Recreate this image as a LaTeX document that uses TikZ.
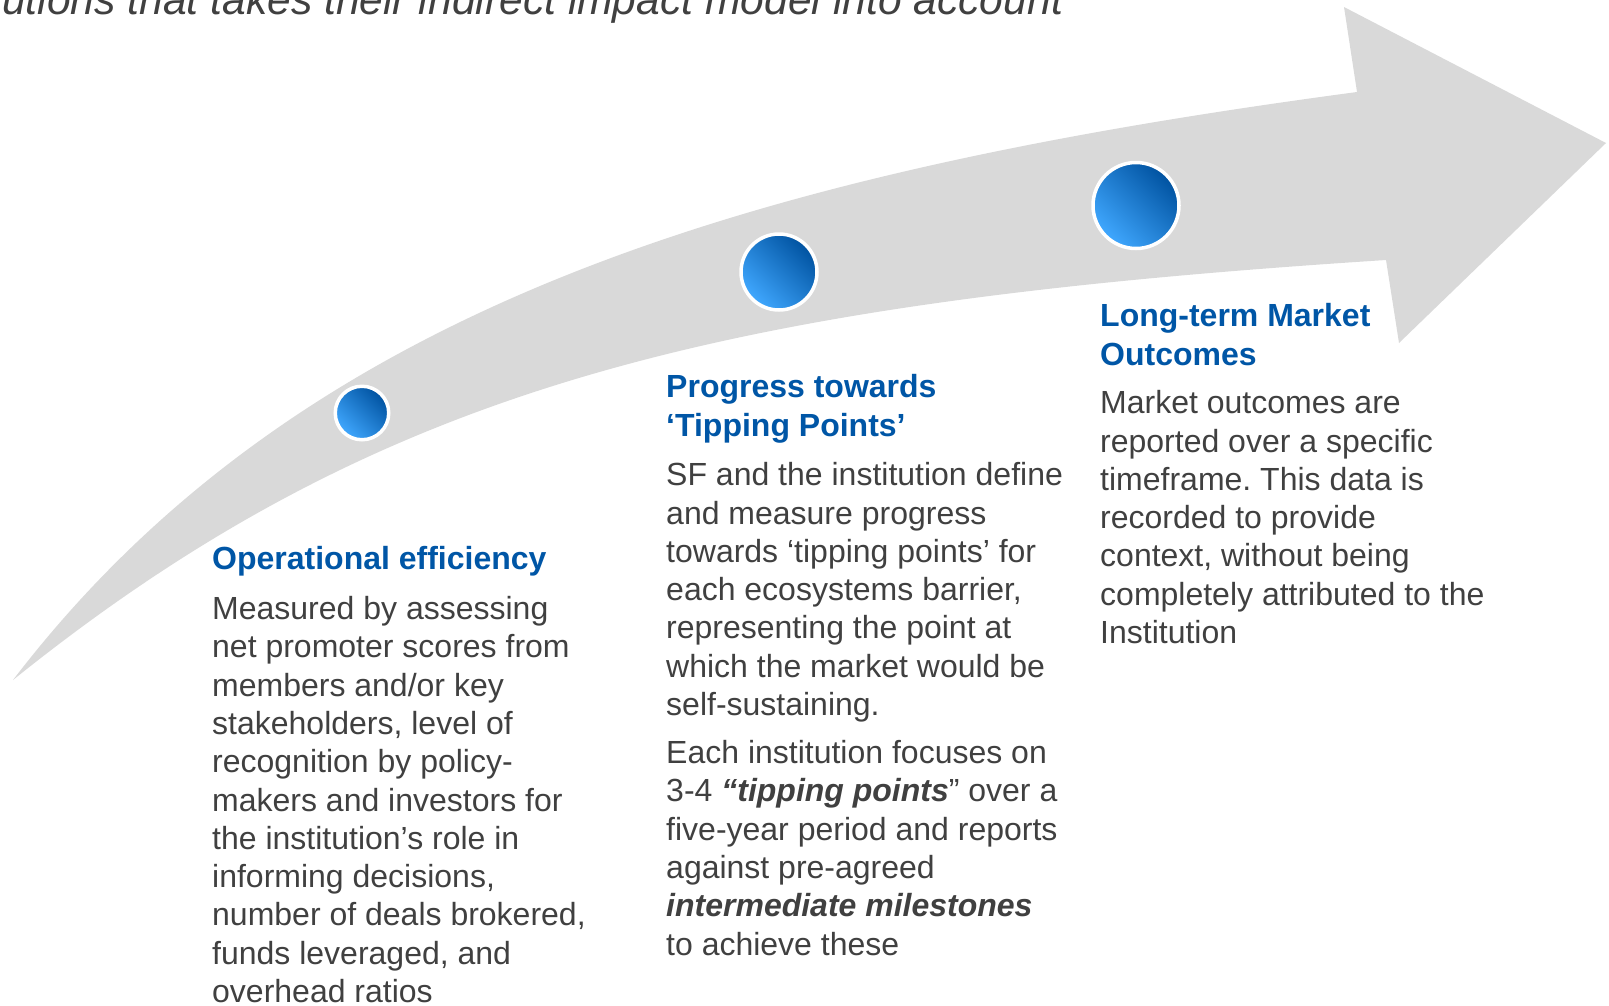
\documentclass[tikz,border=0pt]{standalone}
\usepackage{fontspec}
\setmainfont{Liberation Sans}
\frenchspacing
\definecolor{arrowgrey}{HTML}{D9D9D9}
\definecolor{headblue}{HTML}{0056A6}
\definecolor{bodygrey}{HTML}{404040}
\definecolor{dotdark}{HTML}{0052A0}
\definecolor{dotlight}{HTML}{40A8FF}
\begin{document}
\begin{tikzpicture}[x=1pt,y=-1pt,
  % multi-line text blocks are placed by the baseline of their last line
  heading/.style={anchor=base west, inner sep=0pt, align=left, text=headblue,
    font=\fontsize{32}{38.3}\selectfont\bfseries},
  bodytext/.style={anchor=base west, inner sep=0pt, align=left, text=bodygrey,
    font=\fontsize{32}{38.3}\selectfont},
  milestone/.style={circle, draw=white, line width=3.5pt, inner sep=0pt,
    top color=dotdark, bottom color=dotlight, shading angle=-45}]
\useasboundingbox (0,0) rectangle (1609,1005);
\clip (0,0) rectangle (1609,1005);

% curved grey arrow
\fill[arrowgrey] (13,680) .. controls (300,305) and (750,173) .. (1357,92)
  -- (1344,7) -- (1606,143) -- (1399,343) -- (1386,260)
  .. controls (720,303) and (380,385) .. (13,680) -- cycle;

% title line running off the top edge
\node[anchor=base west, inner sep=0pt, text=bodygrey,
  font=\fontsize{42.6}{50}\selectfont\itshape] (title) at (2,14)
  {utions that takes their indirect impact model into account};

% milestones on the arrow
\node[milestone, minimum size=53.5pt] (m1) at (362,413) {};
\node[milestone, minimum size=76pt] (m2) at (779,272) {};
\node[milestone, minimum size=86pt] (m3) at (1136,205.5) {};

% stage 1
\node[heading] (h1) at (212,569.5) {Operational efficiency};
\node[bodytext] (b1) at (212,1002.5) {Measured by assessing\\
net promoter scores from\\
members and/or key\\
stakeholders, level of\\
recognition by policy-\\
makers and investors for\\
the institution’s role in\\
informing decisions,\\
number of deals brokered,\\
funds leveraged, and\\
overhead ratios};

% stage 2
\node[heading] (h2) at (666,436) {Progress towards\\‘Tipping Points’};
\node[bodytext] (b2a) at (666,715.5) {SF and the institution define\\
and measure progress\\
towards ‘tipping points’ for\\
each ecosystems barrier,\\
representing the point at\\
which the market would be\\
self-sustaining.};
\node[bodytext] (b2b) at (666,955) {Each institution focuses on\\
3-4 \textbf{\textit{“tipping points}}” over a\\
five-year period and reports\\
against pre-agreed\\
\textbf{\textit{intermediate milestones}}\\
to achieve these};

% stage 3
\node[heading] (h3) at (1100,365) {Long-term Market\\Outcomes};
\node[bodytext] (b3) at (1100,643.5) {Market outcomes are\\
reported over a specific\\
timeframe. This data is\\
recorded to provide\\
context, without being\\
completely attributed to the\\
Institution};
\end{tikzpicture}
\end{document}
